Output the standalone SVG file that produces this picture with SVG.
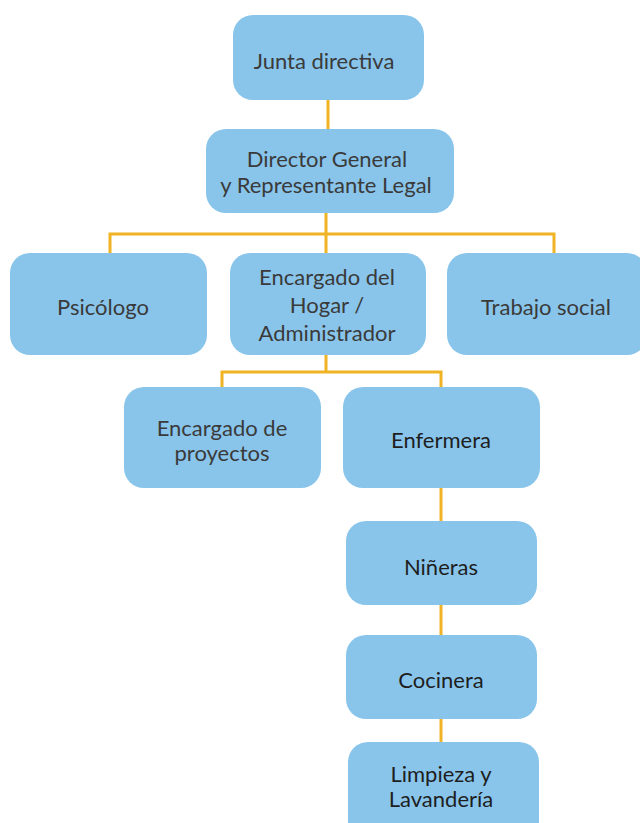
<svg xmlns="http://www.w3.org/2000/svg" width="640" height="823" viewBox="0 0 640 823">
<style>
.box{fill:#89C5EB;}
.t{font-family:Lato,"Open Sans","Liberation Sans",sans-serif;font-size:22px;fill:#3a3a3a;text-anchor:middle;}
.d{fill:#1e1e1e;}
.c{stroke:#F0B323;stroke-width:3;fill:none;}
</style>
<rect width="640" height="823" fill="#ffffff"/>
<g id="connectors">
<path class="c" d="M328 100V129"/>
<path class="c" d="M326 213V253"/>
<path class="c" d="M110 253V234H554V253"/>
<path class="c" d="M326 355V372"/>
<path class="c" d="M222 387V372H441V387"/>
<path class="c" d="M441 488V521"/>
<path class="c" d="M441 605V635"/>
<path class="c" d="M441 719V742"/>
</g>
<g id="junta"><rect class="box" x="233" y="15" width="191" height="85" rx="20"/><text class="t" x="324" y="69">Junta directiva</text></g>
<g id="director"><rect class="box" x="206" y="129" width="248" height="84" rx="20"/><text class="t" x="327" y="167">Director General</text><text class="t" x="326" y="193">y Representante Legal</text></g>
<g id="psicologo"><rect class="box" x="10" y="253" width="197" height="102" rx="20"/><text class="t" x="103" y="315">Psicólogo</text></g>
<g id="encargado-hogar"><rect class="box" x="230" y="253" width="196" height="102" rx="20"/><text class="t" x="327" y="285">Encargado del</text><text class="t" x="327" y="313">Hogar /</text><text class="t" x="327" y="341">Administrador</text></g>
<g id="trabajo-social"><rect class="box" x="447" y="253" width="200" height="102" rx="20"/><text class="t" x="546" y="315">Trabajo social</text></g>
<g id="encargado-proyectos"><rect class="box" x="124" y="387" width="197" height="101" rx="20"/><text class="t" x="222" y="436">Encargado de</text><text class="t" x="222" y="461">proyectos</text></g>
<g id="enfermera"><rect class="box" x="343" y="387" width="197" height="101" rx="20"/><text class="t d" x="441" y="448">Enfermera</text></g>
<g id="nineras"><rect class="box" x="346" y="521" width="191" height="84" rx="20"/><text class="t d" x="441" y="575">Niñeras</text></g>
<g id="cocinera"><rect class="box" x="346" y="635" width="191" height="84" rx="20"/><text class="t d" x="441" y="688">Cocinera</text></g>
<g id="limpieza"><rect class="box" x="348" y="742" width="191" height="100" rx="20"/><text class="t d" x="441" y="782">Limpieza y</text><text class="t d" x="441" y="807">Lavandería</text></g>
</svg>
